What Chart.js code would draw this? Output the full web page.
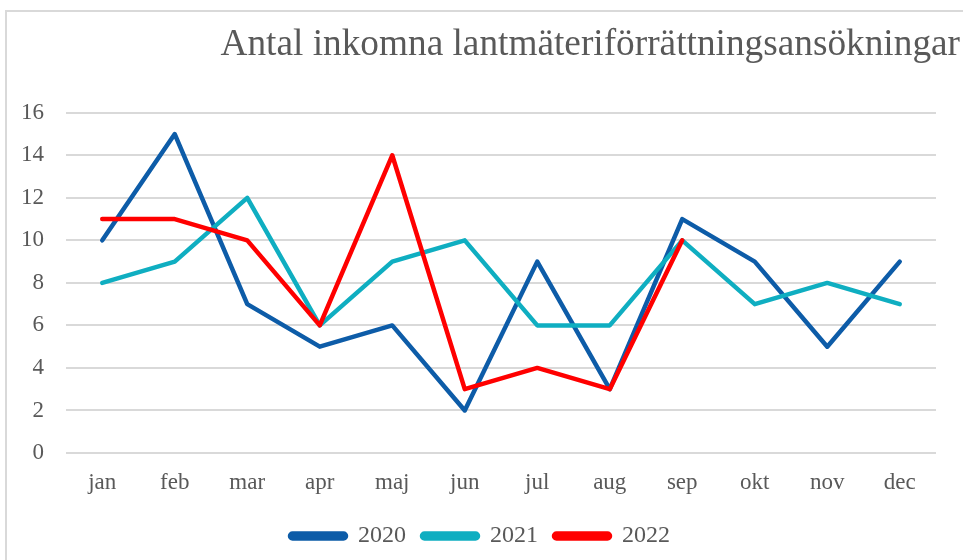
<!DOCTYPE html>
<html>
<head>
<meta charset="utf-8">
<title>Antal inkomna lantmäteriförrättningsansökningar</title>
<script src="https://cdn.jsdelivr.net/npm/chart.js@4.4.1/dist/chart.umd.min.js"></script>
<style>
    html, body { margin: 0; padding: 0; background: #fff; overflow: hidden; }
    .frame {
        position: absolute; left: 5px; top: 10px;
        width: 1000px; height: 600px;
        border: 2px solid #d9d9d9; box-sizing: border-box;
    }
    .chart-box { position: absolute; left: 0; top: 0; width: 963px; height: 560px; }
</style>
</head>
<body>
<div class="frame"></div>
<div class="chart-box"><canvas id="ansokningarChart"></canvas></div>
<script>
// Data
const months = ['jan', 'feb', 'mar', 'apr', 'maj', 'jun', 'jul', 'aug', 'sep', 'okt', 'nov', 'dec'];
const values2020 = [10, 15, 7, 5, 6, 2, 9, 3, 11, 9, 5, 9];
const values2021 = [8, 9, 12, 6, 9, 10, 6, 6, 10, 7, 8, 7];
const values2022 = [11, 11, 10, 6, 14, 3, 4, 3, 10, null, null, null];
const yTicks = [0, 2, 4, 6, 8, 10, 12, 14, 16];

const textColor = '#595959';
const fontFamily = "'Liberation Serif', 'Times New Roman', serif";

function lineSeries(label, data, color, order) {
    return {
        label: label,
        data: data,
        borderColor: color,
        backgroundColor: color,
        borderWidth: 4.5,
        borderCapStyle: 'round',
        borderJoinStyle: 'round',
        pointRadius: 0,
        pointHoverRadius: 0,
        tension: 0,
        fill: false,
        spanGaps: false,
        order: order
    };
}

const ctx = document.getElementById('ansokningarChart').getContext('2d');
new Chart(ctx, {
    type: 'line',
    data: {
        labels: months,
        datasets: [
            lineSeries('2020', values2020, '#0D5CA8', 3),
            lineSeries('2021', values2021, '#0FAEC1', 2),
            lineSeries('2022', values2022, '#FF0000', 1)
        ]
    },
    options: {
        responsive: true,
        maintainAspectRatio: false,
        animation: false,
        layout: {
            padding: { left: 0, right: 3, top: 0, bottom: 2 }
        },
        plugins: {
            title: {
                display: true,
                text: 'Antal inkomna lantmäteriförrättningsansökningar',
                align: 'end',
                color: textColor,
                font: { family: fontFamily, size: 37.3, weight: 'normal' },
                padding: { top: 23, bottom: 45 }
            },
            legend: {
                position: 'bottom',
                labels: {
                    color: textColor,
                    font: { family: fontFamily, size: 24 },
                    boxWidth: 56,
                    boxHeight: 5,
                    useBorderRadius: true,
                    borderRadius: 2.5,
                    padding: 16,
                    sort: (a, b) => a.datasetIndex - b.datasetIndex
                }
            },
            tooltip: { enabled: false }
        },
        scales: {
            x: {
                offset: true,
                afterFit: scale => { scale.height = 55; },
                grid: { display: false, drawTicks: false },
                border: { display: false },
                ticks: {
                    color: textColor,
                    font: { family: fontFamily, size: 23 },
                    padding: 16.5,
                    maxRotation: 0
                }
            },
            y: {
                min: yTicks[0],
                max: yTicks[yTicks.length - 1],
                afterBuildTicks: scale => {
                    scale.ticks = yTicks.map(v => ({ value: v }));
                },
                afterFit: scale => { scale.width = 66; },
                grid: { color: '#d9d9d9', lineWidth: 2, drawTicks: false },
                border: { display: false },
                ticks: {
                    color: textColor,
                    font: { family: fontFamily, size: 23 },
                    padding: 22
                }
            },
            // empty axis on the right only to leave room like the original plot area
            yRight: {
                position: 'right',
                display: true,
                afterFit: scale => { scale.width = 24; },
                grid: { display: false, drawTicks: false },
                border: { display: false },
                ticks: { display: false }
            }
        }
    }
});
</script>
</body>
</html>
